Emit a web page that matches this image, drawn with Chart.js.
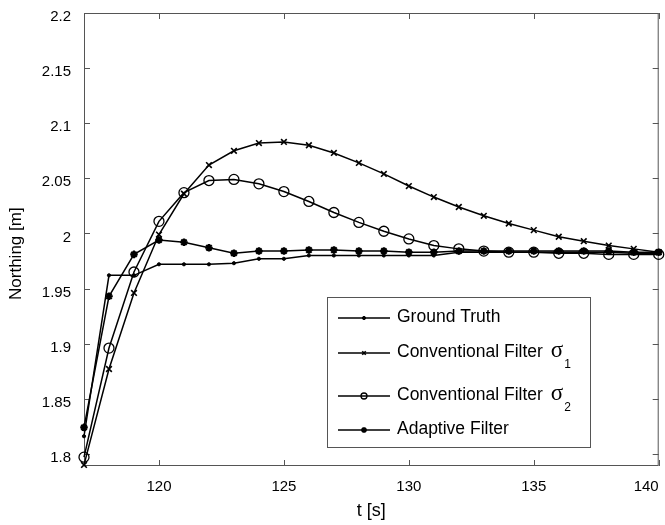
<!DOCTYPE html>
<html>
<head>
<meta charset="utf-8">
<script src="https://cdn.jsdelivr.net/npm/chart.js@4/dist/chart.umd.min.js"></script>
<style>
  body { margin: 0; background: #fff; }
  canvas { display: block; }
</style>
</head>
<body>
<canvas id="canvasNorthing" width="665" height="525"></canvas>
<script>
// time axis [s]
var tiempo = [117,118,119,120,121,122,123,124,125,126,127,128,129,130,131,132,133,134,135,136,137,138,139,140];

// northing [m] per serie
var groundTruth = [1.816,1.962,1.962,1.972,1.972,1.972,1.973,1.977,1.977,1.980,1.980,1.980,1.980,1.980,1.980,1.983,1.983,1.983,1.983,1.983,1.983,1.983,1.982,1.982];
var convSigma1 = [1.790,1.877,1.946,1.999,2.036,2.062,2.075,2.082,2.083,2.080,2.073,2.064,2.054,2.043,2.033,2.024,2.016,2.009,2.003,1.997,1.993,1.989,1.986,1.983];
var convSigma2 = [1.797,1.896,1.965,2.011,2.037,2.048,2.049,2.045,2.038,2.029,2.019,2.010,2.002,1.995,1.989,1.986,1.984,1.983,1.983,1.982,1.982,1.981,1.981,1.981];
var adaptive = [1.824,1.943,1.981,1.994,1.992,1.987,1.982,1.984,1.984,1.985,1.985,1.984,1.984,1.983,1.983,1.984,1.984,1.984,1.984,1.984,1.984,1.984,1.983,1.983];

var xTicks = [120,125,130,135,140];
var yTicks = [1.8,1.85,1.9,1.95,2,2.05,2.1,2.15,2.2];

var fuente = "'Liberation Sans', Arial, Helvetica, sans-serif";

function toPoints(valores) {
  var pts = [];
  for (var i = 0; i < tiempo.length; i++) {
    pts.push({ x: tiempo[i], y: valores[i] });
  }
  return pts;
}

var estilos = [
  { label: "Ground Truth", data: groundTruth, pointStyle: "circle", radius: 1.6, fill: "#000", bw: 1, lr: 1.6 },
  { label: "Conventional Filter", sub: "1", data: convSigma1, pointStyle: "crossRot", radius: 4, fill: "rgba(0,0,0,0)", bw: 1.6, lr: 2.5 },
  { label: "Conventional Filter", sub: "2", data: convSigma2, pointStyle: "circle", radius: 5, fill: "rgba(0,0,0,0)", bw: 1.3, lr: 3 },
  { label: "Adaptive Filter", data: adaptive, pointStyle: "star", radius: 3.8, fill: "#000", bw: 2.2, lr: 2.8 }
];

// frame with inward ticks (matlab look)
var marco = {
  id: "marco",
  beforeDatasetsDraw: function (chart) {
    var ctx = chart.ctx, a = chart.chartArea;
    var sx = chart.scales.x, sy = chart.scales.y;
    var tl = 6;
    ctx.save();
    ctx.strokeStyle = "#555";
    ctx.lineWidth = 1;
    ctx.strokeRect(a.left + 0.5, a.top + 0.5, a.right - a.left - 1, a.bottom - a.top - 1);
    ctx.beginPath();
    xTicks.forEach(function (v) {
      var px = Math.round(sx.getPixelForValue(v)) + 0.5;
      ctx.moveTo(px, a.bottom); ctx.lineTo(px, a.bottom - tl);
      ctx.moveTo(px, a.top); ctx.lineTo(px, a.top + tl);
    });
    yTicks.forEach(function (v) {
      var py = Math.round(sy.getPixelForValue(v)) + 0.5;
      ctx.moveTo(a.left, py); ctx.lineTo(a.left + tl, py);
      ctx.moveTo(a.right, py); ctx.lineTo(a.right - tl, py);
    });
    ctx.stroke();
    ctx.restore();
  }
};

// boxed legend inside the plot
var leyenda = {
  id: "leyenda",
  afterDatasetsDraw: function (chart) {
    var ctx = chart.ctx;
    var bx = 327, by = 297, bw = 263, bh = 150;
    var filas = [318, 353, 396, 430];
    ctx.save();
    ctx.fillStyle = "#fff";
    ctx.fillRect(bx, by, bw, bh);
    ctx.strokeStyle = "#555";
    ctx.lineWidth = 1;
    ctx.strokeRect(bx + 0.5, by + 0.5, bw, bh);
    for (var i = 0; i < estilos.length; i++) {
      var e = estilos[i], y = filas[i];
      ctx.strokeStyle = "#000";
      ctx.lineWidth = 1.5;
      ctx.beginPath();
      ctx.moveTo(338, y); ctx.lineTo(390, y);
      ctx.stroke();
      ctx.fillStyle = e.fill;
      ctx.lineWidth = e.bw;
      Chart.helpers.drawPoint(ctx, { pointStyle: e.pointStyle, radius: e.lr, borderWidth: e.bw, rotation: 0 }, 364, y);
      ctx.fillStyle = "#000";
      ctx.textBaseline = "middle";
      ctx.textAlign = "left";
      ctx.font = "17.5px " + fuente;
      ctx.fillText(e.label, 397, y - 1);
      if (e.sub) {
        var w = ctx.measureText(e.label + " ").width;
        ctx.font = "23px 'Liberation Serif', 'DejaVu Serif', serif";
        ctx.fillText("\u03c3", 400 + w, y - 2);
        var ws = ctx.measureText("\u03c3").width;
        ctx.font = "12px " + fuente;
        ctx.fillText(e.sub, 401 + w + ws, y + 12);
      }
    }
    ctx.restore();
  }
};

var datasets = estilos.map(function (e) {
  return {
    label: e.label,
    data: toPoints(e.data),
    borderColor: "#000",
    borderWidth: 1.5,
    pointStyle: e.pointStyle,
    pointRadius: e.radius,
    pointBackgroundColor: e.fill,
    pointBorderColor: "#000",
    pointBorderWidth: e.bw,
    pointHoverRadius: e.radius,
    tension: 0,
    fill: false,
    clip: false
  };
});

function sinPadding(s) {
  s.paddingLeft = 0;
  s.paddingRight = 0;
  s.paddingTop = 0;
  s.paddingBottom = 0;
}

new Chart(document.getElementById("canvasNorthing").getContext("2d"), {
  type: "line",
  data: { datasets: datasets },
  plugins: [marco, leyenda],
  options: {
    responsive: false,
    animation: false,
    layout: { padding: { top: 13, right: 5, left: 0, bottom: 0 } },
    plugins: {
      legend: { display: false },
      tooltip: { enabled: false }
    },
    scales: {
      x: {
        type: "linear",
        min: 117,
        max: 140,
        // blank tick at the left edge so 'inner' only pulls the 140 label in
        afterBuildTicks: function (s) {
          s.ticks = [{ value: 117 }].concat(xTicks.map(function (v) { return { value: v }; }));
        },
        afterFit: function (s) { s.height = 59; sinPadding(s); },
        grid: { display: false, drawTicks: false },
        border: { display: false },
        ticks: {
          padding: 12,
          align: "inner",
          color: "#000",
          font: { family: fuente, size: 15 },
          callback: function (v) { return v === 117 ? "" : String(v); }
        },
        title: {
          display: true,
          text: "t [s]",
          color: "#000",
          font: { family: fuente, size: 18 },
          padding: { top: 0, bottom: 3 }
        }
      },
      y: {
        type: "linear",
        min: 1.789,
        max: 2.2,
        afterBuildTicks: function (s) { s.ticks = yTicks.map(function (v) { return { value: v }; }); },
        afterFit: function (s) { s.width = 84; sinPadding(s); },
        grid: { display: false, drawTicks: false },
        border: { display: false },
        ticks: {
          padding: 13,
          labelOffset: 4,
          color: "#000",
          font: { family: fuente, size: 15 },
          callback: function (v) { return String(+v.toFixed(2)); }
        },
        title: {
          display: true,
          // trailing nbsp nudges the rotated title a bit lower, like the original
          text: "Northing [m]\u00a0\u00a0\u00a0\u00a0\u00a0\u00a0",
          color: "#000",
          font: { family: fuente, size: 17 },
          padding: { top: 6, bottom: 0 }
        }
      }
    }
  }
});
</script>
</body>
</html>
